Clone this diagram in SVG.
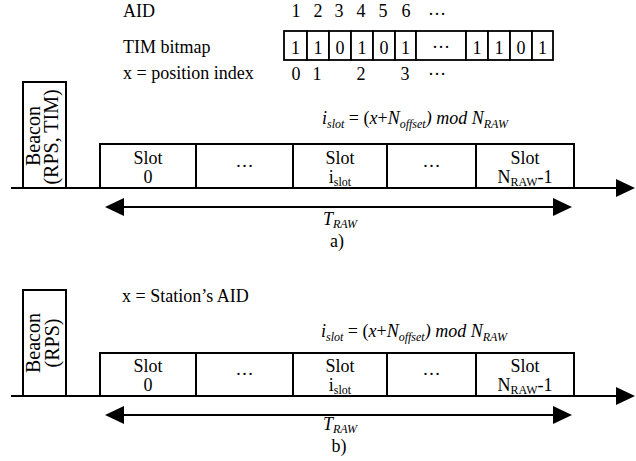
<svg xmlns="http://www.w3.org/2000/svg" width="636" height="461" viewBox="0 0 636 461" font-family="'Liberation Serif', 'Times New Roman', Times, 'DejaVu Serif', serif">
<defs>
<style>
text{font-family:'Liberation Serif','Times New Roman',Times,'DejaVu Serif',serif;font-size:18px;fill:#000}
.c{text-anchor:middle}
.it{font-style:italic}
.sub{font-size:12px}
.bx{fill:#fff;stroke:#000;stroke-width:2}
.cell{fill:#fff;stroke:#000;stroke-width:1.8}
.ln{stroke:#000;stroke-width:2;fill:none}
.bc{font-size:20px;text-anchor:middle}
</style>
<marker id="ah" markerUnits="userSpaceOnUse" markerWidth="20" markerHeight="20" viewBox="0 0 20 20" refX="1" refY="10" orient="auto-start-reverse">
<path d="M0,1 L19,10 L0,19 z" fill="#000"/>
</marker>
</defs>
<rect width="636" height="461" fill="#fff"/>

<!-- top labels -->
<g id="labels-top">
<text x="123" y="17">AID</text>
<text x="123" y="53">TIM  bitmap</text>
<text x="123" y="79">x = position index</text>
</g>
<g id="aid-numbers">
<text class="c" x="296" y="17">1</text>
<text class="c" x="318" y="17">2</text>
<text class="c" x="339" y="17">3</text>
<text class="c" x="361" y="17">4</text>
<text class="c" x="383" y="17">5</text>
<text class="c" x="406" y="17">6</text>
<text class="c" x="437" y="15" font-size="14">…</text>
</g>
<g id="tim-bitmap">
<rect class="cell" x="284" y="31" width="23" height="29"/>
<rect class="cell" x="307" y="31" width="22" height="29"/>
<rect class="cell" x="329" y="31" width="22" height="29"/>
<rect class="cell" x="351" y="31" width="22" height="29"/>
<rect class="cell" x="373" y="31" width="22" height="29"/>
<rect class="cell" x="395" y="31" width="21" height="29"/>
<rect class="cell" x="416" y="31" width="50" height="29"/>
<rect class="cell" x="466" y="31" width="22" height="29"/>
<rect class="cell" x="488" y="31" width="22" height="29"/>
<rect class="cell" x="510" y="31" width="22" height="29"/>
<rect class="cell" x="532" y="31" width="21" height="29"/>
<text class="c" x="295.5" y="54">1</text>
<text class="c" x="318" y="54">1</text>
<text class="c" x="340" y="54">0</text>
<text class="c" x="362" y="54">1</text>
<text class="c" x="384" y="54">0</text>
<text class="c" x="405.5" y="54">1</text>
<text class="c" x="441" y="48" font-size="14">…</text>
<text class="c" x="477" y="54">1</text>
<text class="c" x="499" y="54">1</text>
<text class="c" x="521" y="54">0</text>
<text class="c" x="542.5" y="54">1</text>
</g>
<g id="position-index">
<text class="c" x="296" y="80">0</text>
<text class="c" x="317" y="80">1</text>
<text class="c" x="361" y="80">2</text>
<text class="c" x="405" y="80">3</text>
<text class="c" x="437" y="75" font-size="14">…</text>
</g>

<!-- panel a -->
<g id="connectors-a">
<line class="ln" x1="11" y1="188" x2="617" y2="188" marker-end="url(#ah)"/>
<line class="ln" x1="123" y1="207" x2="554" y2="207" marker-start="url(#ah)" marker-end="url(#ah)"/>
</g>
<g id="beacon-a">
<rect class="bx" x="23" y="82" width="43" height="106"/>
<text class="bc" transform="translate(40,136) rotate(-90)">Beacon</text>
<text class="bc" transform="translate(58,137) rotate(-90)">(RPS, TIM)</text>
</g>
<g id="slot-a-0">
<rect class="bx" x="100" y="144" width="96" height="44"/>
<text class="c" x="148" y="164">Slot</text>
<text class="c" x="148" y="183">0</text>
</g>
<g id="slot-a-dots1">
<rect class="bx" x="196" y="144" width="97" height="44"/>
<text class="c" x="244.5" y="167" font-size="14">…</text>
</g>
<g id="slot-a-i">
<rect class="bx" x="293" y="144" width="94" height="44"/>
<text class="c" x="340" y="164">Slot</text>
<text class="c" x="340" y="183">i<tspan class="sub" dy="3">slot</tspan></text>
</g>
<g id="slot-a-dots2">
<rect class="bx" x="387" y="144" width="89" height="44"/>
<text class="c" x="431.5" y="167" font-size="14">…</text>
</g>
<g id="slot-a-last">
<rect class="bx" x="476" y="144" width="98" height="44"/>
<text class="c" x="525" y="164">Slot</text>
<text class="c" x="525" y="183">N<tspan class="sub" dy="3">RAW</tspan><tspan dy="-3">-1</tspan></text>
</g>
<g id="formula-a">
<text class="it" x="322" y="124">i<tspan class="sub" dy="4">slot</tspan><tspan dy="-4" font-style="normal"> = (</tspan>x<tspan font-style="normal">+</tspan>N<tspan class="sub" dy="4">offset</tspan><tspan dy="-4">) mod N</tspan><tspan class="sub" dy="4">RAW</tspan></text>
</g>
<g id="traw-a">
<text class="c it" x="340" y="225">T<tspan class="sub" dy="3">RAW</tspan></text>
<text class="c" x="337" y="247">a)</text>
</g>

<!-- panel b -->
<g id="connectors-b">
<line class="ln" x1="11" y1="396" x2="617" y2="396" marker-end="url(#ah)"/>
<line class="ln" x1="123" y1="415" x2="554" y2="415" marker-start="url(#ah)" marker-end="url(#ah)"/>
</g>
<g id="beacon-b">
<rect class="bx" x="23" y="290" width="43" height="106"/>
<text class="bc" transform="translate(40,343) rotate(-90)">Beacon</text>
<text class="bc" transform="translate(59,343) rotate(-90)">(RPS)</text>
</g>
<text x="122" y="302">x = Station’s AID</text>
<g id="slot-b-0">
<rect class="bx" x="100" y="353" width="96" height="43"/>
<text class="c" x="148" y="372">Slot</text>
<text class="c" x="148" y="391">0</text>
</g>
<g id="slot-b-dots1">
<rect class="bx" x="196" y="353" width="97" height="43"/>
<text class="c" x="244.5" y="375" font-size="14">…</text>
</g>
<g id="slot-b-i">
<rect class="bx" x="293" y="353" width="94" height="43"/>
<text class="c" x="340" y="372">Slot</text>
<text class="c" x="340" y="391">i<tspan class="sub" dy="3">slot</tspan></text>
</g>
<g id="slot-b-dots2">
<rect class="bx" x="387" y="353" width="89" height="43"/>
<text class="c" x="431.5" y="375" font-size="14">…</text>
</g>
<g id="slot-b-last">
<rect class="bx" x="476" y="353" width="98" height="43"/>
<text class="c" x="525" y="372">Slot</text>
<text class="c" x="525" y="391">N<tspan class="sub" dy="3">RAW</tspan><tspan dy="-3">-1</tspan></text>
</g>
<g id="formula-b">
<text class="it" x="321" y="337">i<tspan class="sub" dy="4">slot</tspan><tspan dy="-4" font-style="normal"> = (</tspan>x<tspan font-style="normal">+</tspan>N<tspan class="sub" dy="4">offset</tspan><tspan dy="-4">) mod N</tspan><tspan class="sub" dy="4">RAW</tspan></text>
</g>
<g id="traw-b">
<text class="c it" x="340" y="430">T<tspan class="sub" dy="3">RAW</tspan></text>
<text class="c" x="339" y="452">b)</text>
</g>
</svg>
